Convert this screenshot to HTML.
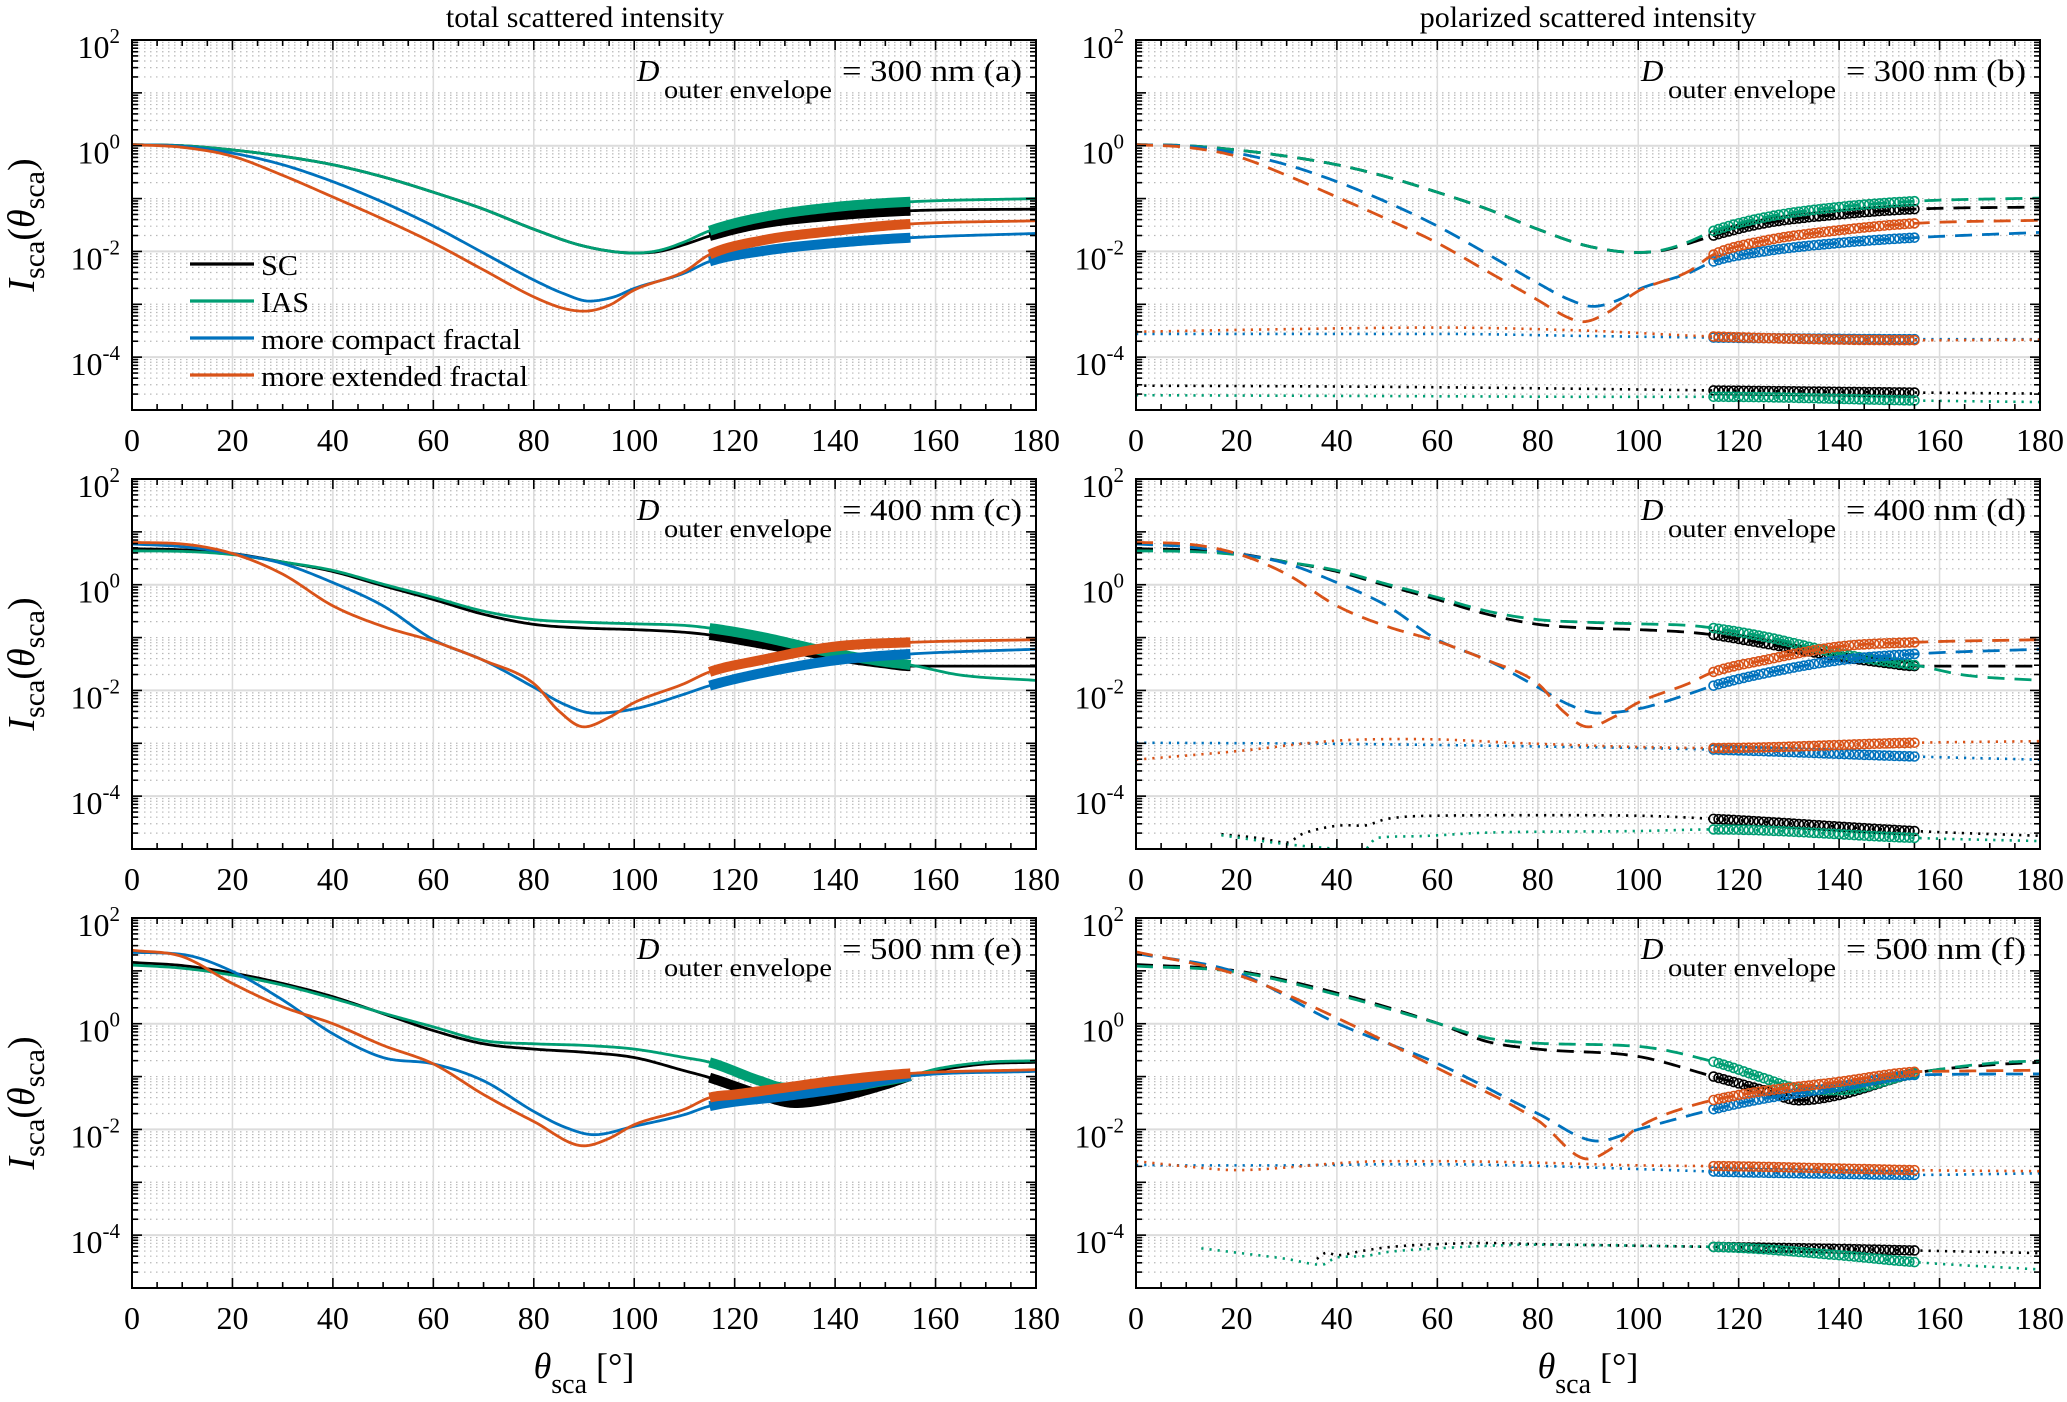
<!DOCTYPE html>
<html><head><meta charset="utf-8"><style>
html,body{margin:0;padding:0;background:#fff;}
svg text{font-family:"Liberation Serif","DejaVu Serif",serif;fill:#000;}
</style></head><body>
<svg id="fig" width="2067" height="1397" viewBox="0 0 2067 1397" xmlns="http://www.w3.org/2000/svg">
<text x="585" y="27" font-size="30" text-anchor="middle">total scattered intensity</text>
<text x="1588" y="27" font-size="30" text-anchor="middle">polarized scattered intensity</text>
</svg>
<script>
// ---------- data (log10 of I_sca) ----------
// Panel (a)  D = 300 nm, total
const aSC_ang  = [0,10,20,30,40,50,60,70,80,90,100,105,110,115,125,140,155,180];
const aSC_val  = [0.02,0,-0.08,-0.2,-0.36,-0.59,-0.88,-1.2,-1.58,-1.9,-2.03,-2.0,-1.87,-1.71,-1.48,-1.32,-1.23,-1.2];
const aIAS_ang = [0,10,20,30,40,50,60,70,80,90,100,105,110,115,125,140,155,180];
const aIAS_val = [0.02,0,-0.08,-0.2,-0.36,-0.59,-0.88,-1.2,-1.58,-1.9,-2.03,-1.98,-1.82,-1.61,-1.36,-1.16,-1.06,-1.0];
const aBL_ang  = [0,10,20,30,40,50,60,70,80,86,91,96,100,110,115,125,140,155,180];
const aBL_val  = [0.02,-0.01,-0.14,-0.36,-0.68,-1.07,-1.52,-2.03,-2.54,-2.8,-2.94,-2.86,-2.7,-2.41,-2.19,-2.0,-1.84,-1.74,-1.66];
const aOR_ang  = [0,10,20,30,40,50,60,70,80,86,90,95,100,110,115,125,140,155,180];
const aOR_val  = [0.02,-0.03,-0.2,-0.56,-0.97,-1.39,-1.84,-2.35,-2.86,-3.08,-3.13,-3.02,-2.73,-2.38,-2.06,-1.8,-1.61,-1.48,-1.42];
// Panel (b) dashed (polarized)
const bSC_ang  = [0,10,20,30,40,50,60,70,80,90,100,105,110,115,125,140,155,180];
const bSC_val  = [0.02,0,-0.08,-0.2,-0.36,-0.59,-0.88,-1.2,-1.58,-1.9,-2.02,-1.98,-1.85,-1.7,-1.47,-1.3,-1.2,-1.16];
const bIAS_val = [0.02,0,-0.08,-0.2,-0.36,-0.59,-0.88,-1.2,-1.58,-1.9,-2.02,-1.97,-1.82,-1.61,-1.36,-1.16,-1.05,-0.99];
const bBL_ang  = [0,10,20,30,40,50,60,70,80,86,91,96,100,110,115,125,140,155,180];
const bBL_val  = [0.02,-0.01,-0.14,-0.36,-0.68,-1.07,-1.52,-2.05,-2.6,-2.9,-3.04,-2.92,-2.72,-2.41,-2.19,-2.0,-1.84,-1.74,-1.64];
const bOR_ang  = [0,10,20,30,40,50,60,70,80,86,89,94,100,110,115,125,140,155,180];
const bOR_val  = [0.02,-0.03,-0.2,-0.56,-0.97,-1.39,-1.84,-2.38,-2.92,-3.25,-3.33,-3.15,-2.75,-2.38,-2.06,-1.8,-1.6,-1.47,-1.41];
// Panel (b) dotted
const bDot_ang   = [0,30,60,90,115,155,180];
const bORdot_val = [-3.52,-3.47,-3.44,-3.5,-3.61,-3.68,-3.67];
const bBLdot_val = [-3.56,-3.56,-3.56,-3.6,-3.63,-3.66,-3.66];
const bSCdot_val = [-4.54,-4.55,-4.57,-4.6,-4.63,-4.67,-4.69];
const bIASdot_val= [-4.72,-4.73,-4.74,-4.75,-4.75,-4.82,-4.85];
// Panel (c) D = 400 nm
const cSC_ang  = [0,10,20,30,40,50,60,70,80,90,100,110,115,125,140,150,155,180];
const cSC_val  = [0.68,0.66,0.59,0.43,0.25,-0.02,-0.28,-0.56,-0.75,-0.82,-0.85,-0.9,-0.95,-1.11,-1.36,-1.49,-1.54,-1.54];
const cIAS_ang = [0,10,20,30,40,50,60,70,80,90,100,110,115,125,140,150,155,165,180];
const cIAS_val = [0.64,0.63,0.57,0.43,0.27,0.01,-0.24,-0.5,-0.66,-0.71,-0.74,-0.77,-0.82,-0.98,-1.3,-1.46,-1.52,-1.71,-1.81];
const cBL_ang  = [0,10,20,30,40,50,60,70,80,86,92,100,110,115,125,140,155,180];
const cBL_val  = [0.77,0.72,0.59,0.4,0.04,-0.4,-1.04,-1.43,-1.94,-2.26,-2.43,-2.35,-2.07,-1.91,-1.68,-1.43,-1.31,-1.22];
const cOR_ang  = [0,10,20,30,40,50,60,70,80,85,90,95,100,110,115,125,140,155,180];
const cOR_val  = [0.8,0.77,0.59,0.2,-0.4,-0.79,-1.07,-1.43,-1.87,-2.39,-2.69,-2.51,-2.23,-1.87,-1.65,-1.43,-1.17,-1.09,-1.04];
// Panel (d) dotted
const dOR_ang  = [0,20,40,55,80,100,115,155,180];
const dOR_val  = [-3.31,-3.15,-2.95,-2.92,-3.01,-3.07,-3.09,-2.99,-2.96];
const dBL_ang  = [0,40,80,115,155,180];
const dBL_val  = [-2.99,-3.01,-3.06,-3.12,-3.25,-3.31];
const dSC_ang  = [17,25,30,33,38,42,45,50,60,80,100,115,155,180];
const dSC_val  = [-4.72,-4.8,-4.88,-4.72,-4.59,-4.55,-4.56,-4.43,-4.37,-4.36,-4.37,-4.43,-4.66,-4.75];
const dIAS_ang = [17,30,40,45,48,55,70,100,115,155,180];
const dIAS_val = [-4.74,-4.91,-5.0,-5.05,-4.79,-4.76,-4.69,-4.66,-4.63,-4.79,-4.85];
// Panel (e) D = 500 nm
const eSC_ang  = [0,10,20,30,40,50,60,70,80,90,100,110,115,125,132,140,150,155,160,170,180];
const eSC_val  = [1.16,1.1,0.96,0.76,0.51,0.19,-0.13,-0.38,-0.48,-0.54,-0.64,-0.89,-1.02,-1.34,-1.5,-1.4,-1.15,-0.99,-0.89,-0.76,-0.73];
const eIAS_ang = [0,10,20,30,40,50,60,70,80,90,100,110,115,125,130,140,150,155,160,170,180];
const eIAS_val = [1.11,1.05,0.92,0.73,0.48,0.2,-0.06,-0.32,-0.38,-0.41,-0.48,-0.64,-0.73,-1.08,-1.21,-1.21,-1.08,-0.99,-0.86,-0.73,-0.7];
const eBL_ang  = [0,10,20,30,40,50,60,70,80,86,92,100,110,115,130,140,155,180];
const eBL_val  = [1.35,1.31,0.99,0.45,-0.19,-0.64,-0.76,-1.08,-1.66,-1.95,-2.1,-1.94,-1.72,-1.56,-1.37,-1.24,-0.99,-0.9];
const eOR_ang  = [0,10,20,30,40,50,60,70,80,90,95,100,110,115,120,130,140,155,180];
const eOR_val  = [1.39,1.27,0.76,0.32,0,-0.41,-0.76,-1.34,-1.85,-2.31,-2.17,-1.91,-1.62,-1.4,-1.34,-1.21,-1.08,-0.94,-0.87];
// Panel (f) dashed
const fSC_ang  = [0,20,40,60,70,80,100,115,125,132,140,155,170,180];
const fSC_val  = [1.12,1.0,0.58,0.01,-0.34,-0.48,-0.62,-1.0,-1.26,-1.45,-1.35,-0.94,-0.78,-0.73];
const fIAS_ang = [0,20,40,60,70,80,100,115,125,132,140,155,170,180];
const fIAS_val = [1.09,0.98,0.55,0.01,-0.27,-0.37,-0.43,-0.72,-1.03,-1.23,-1.26,-0.94,-0.75,-0.7];
const fBL_ang  = [0,20,40,60,80,92,100,120,140,155,180];
const fBL_val  = [1.33,0.97,0.01,-0.75,-1.7,-2.22,-2.0,-1.51,-1.19,-0.97,-0.95];
const fOR_ang  = [0,20,40,60,80,90,95,100,110,120,140,155,160,180];
const fOR_val  = [1.36,0.93,0.11,-0.84,-1.83,-2.56,-2.34,-1.96,-1.57,-1.35,-1.1,-0.91,-0.9,-0.88];
// Panel (f) dotted
const fOR_dang = [0,10,20,30,40,50,60,80,100,120,140,155,180];
const fOR_dval = [-2.6,-2.7,-2.77,-2.72,-2.64,-2.6,-2.6,-2.63,-2.68,-2.7,-2.74,-2.77,-2.79];
const fBL_dval = [-2.67,-2.68,-2.68,-2.68,-2.67,-2.66,-2.66,-2.69,-2.75,-2.81,-2.84,-2.86,-2.83];
const fSC_dang = [36,38,40,45,50,60,70,80,100,120,140,155,180];
const fSC_dval = [-4.45,-4.33,-4.38,-4.3,-4.23,-4.17,-4.15,-4.17,-4.2,-4.23,-4.26,-4.29,-4.34];
const fIAS_dang= [13,20,30,37,40,45,50,60,80,100,120,140,155,180];
const fIAS_dval= [-4.25,-4.33,-4.45,-4.56,-4.42,-4.4,-4.32,-4.25,-4.18,-4.2,-4.24,-4.38,-4.51,-4.65];

const xTicks = [0,20,40,60,80,100,120,140,160,180];
const yTickExp = [2,0,-2,-4];
const legendLabels = ['SC','IAS','more compact fractal','more extended fractal'];
const panelLabels = ['= 300 nm (a)','= 300 nm (b)','= 400 nm (c)','= 400 nm (d)','= 500 nm (e)','= 500 nm (f)'];

// ---------- rendering ----------
const NS = 'http://www.w3.org/2000/svg';
const svg = document.getElementById('fig');
const COL = {SC:'#000000', IAS:'#009e73', BL:'#0072bd', OR:'#d95319'};
const PW = 904, PH = 370, YMAX = 2, YMIN = -5;
const colX = [132, 1136], rowY = [40, 479, 918];

function mk(tag, attrs, parent){
  const e = document.createElementNS(NS, tag);
  for (const k in attrs) e.setAttribute(k, attrs[k]);
  (parent||svg).appendChild(e);
  return e;
}
function mono(xs, ys){
  const n = xs.length, d = [], m = new Array(n);
  for (let i=0;i<n-1;i++) d.push((ys[i+1]-ys[i])/(xs[i+1]-xs[i]));
  m[0]=d[0]; m[n-1]=d[n-2];
  for (let i=1;i<n-1;i++) m[i] = (d[i-1]*d[i]<=0)?0:(d[i-1]+d[i])/2;
  for (let i=0;i<n-1;i++){
    if (d[i]===0){m[i]=0;m[i+1]=0;continue;}
    const a=m[i]/d[i], b=m[i+1]/d[i], s=a*a+b*b;
    if (s>9){const t=3/Math.sqrt(s); m[i]=t*a*d[i]; m[i+1]=t*b*d[i];}
  }
  return function(x){
    let i=0; while(i<n-2 && x>xs[i+1]) i++;
    const h=xs[i+1]-xs[i], t=(x-xs[i])/h, t2=t*t, t3=t2*t;
    return (2*t3-3*t2+1)*ys[i]+(t3-2*t2+t)*h*m[i]+(-2*t3+3*t2)*ys[i+1]+(t3-t2)*h*m[i+1];
  };
}

function makePanel(col,row,idx){
  const x0=colX[col], y0=rowY[row];
  const g = mk('g',{});
  
  
  const sx = a => x0 + a/180*PW;
  const sy = L => y0 + (YMAX-L)/(YMAX-YMIN)*PH;
  const cid='clip'+idx;
  const cp = mk('clipPath',{id:cid},g); mk('rect',{x:x0,y:y0,width:PW,height:PH},cp);
  // grid
  const grid = mk('g',{},g);
  
  
  for (let e=YMIN;e<YMAX;e++) for (let k=2;k<=9;k++){
    const y=sy(e+Math.log10(k));
    mk('line',{x1:x0,x2:x0+PW,y1:y,y2:y,stroke:'#b8b8b8','stroke-width':1.2,'stroke-dasharray':'1.5 4.5'},grid);
  }
  for (let e=YMIN;e<=YMAX;e++){ if (e%2!==0) { const y=sy(e); mk('line',{x1:x0,x2:x0+PW,y1:y,y2:y,stroke:'#b8b8b8','stroke-width':1.2,'stroke-dasharray':'1.5 4.5'},grid);} }
  yTickExp.forEach(e=>{const y=sy(e); mk('line',{x1:x0,x2:x0+PW,y1:y,y2:y,stroke:'#dcdcdc','stroke-width':2},grid);});
  xTicks.forEach(a=>{const x=sx(a); mk('line',{x1:x,x2:x,y1:y0,y2:y0+PH,stroke:'#dcdcdc','stroke-width':1.5},grid);});
  // series
  const plot = mk('g',{'clip-path':'url(#'+cid+')'},g);
  function curve(ang, val, color, kind, name){
    const f = mono(ang, val);
    const a0=ang[0], a1=ang[ang.length-1];
    let d='';
    for (let a=a0;a<=a1+1e-9;a+=0.5) d += (d?'L':'M')+sx(a).toFixed(2)+' '+sy(f(a)).toFixed(2);
    const attrs={d:d,fill:'none',stroke:color,'stroke-width':kind==='dot'?2.6:2.8};
    if (kind==='dash') attrs['stroke-dasharray']='17 10';
    if (kind==='dot') attrs['stroke-dasharray']='2.2 6';
    const p = mk('path',attrs,plot);
    
    
    const lo=Math.max(115,a0), hi=Math.min(155,a1);
    if (kind==='solid'){
      let d2='';
      for (let a=lo;a<=hi+1e-9;a+=0.5) d2 += (d2?'L':'M')+sx(a).toFixed(2)+' '+sy(f(a)).toFixed(2);
      const t = mk('path',{d:d2,fill:'none',stroke:color,'stroke-width':10,'stroke-linejoin':'round'},plot);
      
      
    } else {
      const mg = mk('g',{},plot);
      
      
      for (let a=Math.ceil(lo);a<=hi;a+=1) mk('circle',{cx:sx(a),cy:sy(f(a)),r:4.5,fill:'none',stroke:color,'stroke-width':1.6},mg);
    }
  }
  return {g,sx,sy,x0,y0,curve};
}

function axes(P, idx){
  const {g,sx,sy,x0,y0}=P;
  const ax = mk('g',{},g);
  
  
  mk('rect',{x:x0,y:y0,width:PW,height:PH,fill:'none',stroke:'#000','stroke-width':2},ax);
  for (let a=0;a<=180;a+=5){
    const L = (a%20===0)?10:6, x=sx(a);
    mk('line',{x1:x,x2:x,y1:y0+PH,y2:y0+PH-L,stroke:'#000','stroke-width':1.6},ax);
    mk('line',{x1:x,x2:x,y1:y0,y2:y0+L,stroke:'#000','stroke-width':1.6},ax);
  }
  for (let e=YMIN;e<YMAX;e++) for (let k=1;k<=9;k++){
    const y=sy(e+Math.log10(k)), L=(k===1)?10:6;
    mk('line',{x1:x0,x2:x0+L,y1:y,y2:y,stroke:'#000','stroke-width':1.6},ax);
    mk('line',{x1:x0+PW,x2:x0+PW-L,y1:y,y2:y,stroke:'#000','stroke-width':1.6},ax);
  }
  xTicks.forEach(a=>{
    const t = mk('text',{x:sx(a),y:y0+PH+41,'font-size':32,'text-anchor':'middle'},ax);
    t.textContent=String(a);
    
    
  });
  yTickExp.forEach(e=>{
    const t = mk('text',{x:x0-12,y:sy(e)+18,'font-size':32,'text-anchor':'end'},ax);
    
    
    const a=mk('tspan',{},t); a.textContent='10';
    const b=mk('tspan',{dy:-15,'font-size':21},t); b.textContent=String(e);
  });
  // annotation
  const an = mk('g',{},g);
  
  
  const D = mk('text',{x:x0+505,y:y0+41,'font-size':31,'font-style':'italic'},an); D.textContent='D';
  const s = mk('text',{x:x0+532,y:y0+58,'font-size':25,textLength:168,lengthAdjust:'spacingAndGlyphs'},an); s.textContent='outer envelope';
  const v = mk('text',{x:x0+710,y:y0+41,'font-size':31,textLength:180,lengthAdjust:'spacingAndGlyphs'},an); v.textContent=panelLabels[idx];
}

function ylabel(row){
  const cy = rowY[row]+PH/2;
  const t = mk('text',{transform:'translate(34,'+cy+') rotate(-90)','font-size':38,'text-anchor':'middle'});
  
  
  const a=mk('tspan',{'font-style':'italic'},t); a.textContent='I';
  const b=mk('tspan',{'font-size':30,dy:10},t); b.textContent='sca';
  const c=mk('tspan',{dy:-10},t); c.textContent='(';
  const d=mk('tspan',{'font-style':'italic'},t); d.textContent='θ';
  const e=mk('tspan',{'font-size':30,dy:10},t); e.textContent='sca';
  const f=mk('tspan',{dy:-10},t); f.textContent=')';
}
function xlabel(col){
  const cx = colX[col]+PW/2;
  const t = mk('text',{x:cx,y:1378,'font-size':36,'text-anchor':'middle'});
  
  
  const a=mk('tspan',{'font-style':'italic'},t); a.textContent='θ';
  const b=mk('tspan',{'font-size':28,dy:15},t); b.textContent='sca';
  const c=mk('tspan',{dy:-15},t); c.textContent=' [°]';
}

// Left panels (total)
const leftSets = [
  [[aSC_ang,aSC_val],[aIAS_ang,aIAS_val],[aBL_ang,aBL_val],[aOR_ang,aOR_val]],
  [[cSC_ang,cSC_val],[cIAS_ang,cIAS_val],[cBL_ang,cBL_val],[cOR_ang,cOR_val]],
  [[eSC_ang,eSC_val],[eIAS_ang,eIAS_val],[eBL_ang,eBL_val],[eOR_ang,eOR_val]]
];
const rightDash = [
  [[bSC_ang,bSC_val],[bSC_ang,bIAS_val],[bBL_ang,bBL_val],[bOR_ang,bOR_val]],
  [[cSC_ang,cSC_val],[cIAS_ang,cIAS_val],[cBL_ang,cBL_val],[cOR_ang,cOR_val]],
  [[fSC_ang,fSC_val],[fIAS_ang,fIAS_val],[fBL_ang,fBL_val],[fOR_ang,fOR_val]]
];
const rightDot = [
  [[bDot_ang,bSCdot_val],[bDot_ang,bIASdot_val],[bDot_ang,bBLdot_val],[bDot_ang,bORdot_val]],
  [[dSC_ang,dSC_val],[dIAS_ang,dIAS_val],[dBL_ang,dBL_val],[dOR_ang,dOR_val]],
  [[fSC_dang,fSC_dval],[fIAS_dang,fIAS_dval],[fOR_dang,fBL_dval],[fOR_dang,fOR_dval]]
];
const keys=['SC','IAS','BL','OR'];
const names=['sc','ias','compact-fractal','extended-fractal'];
for (let r=0;r<3;r++){
  const L = makePanel(0,r,2*r);
  leftSets[r].forEach((s,i)=>L.curve(s[0],s[1],COL[keys[i]],'solid',names[i]+'-line'));
  axes(L,2*r);
  const R = makePanel(1,r,2*r+1);
  rightDot[r].forEach((s,i)=>R.curve(s[0],s[1],COL[keys[i]],'dot',names[i]+'-dotted'));
  rightDash[r].forEach((s,i)=>R.curve(s[0],s[1],COL[keys[i]],'dash',names[i]+'-dashed'));
  axes(R,2*r+1);
  ylabel(r);
}
xlabel(0); xlabel(1);

// legend
const lg = mk('g',{});


const legW=[37,48,260,267];
legendLabels.forEach((lab,i)=>{
  const y = 264 + i*37;
  const e = mk('g',{},lg);
  
  
  mk('rect',{x:186,y:y-15,width:355,height:30,fill:'none'},e);
  mk('line',{x1:190,x2:254,y1:y,y2:y,stroke:COL[keys[i]],'stroke-width':3.2},e);
  const t = mk('text',{x:261,y:y+11,'font-size':29,textLength:legW[i],lengthAdjust:'spacingAndGlyphs'},e);
  t.textContent=lab;
});
</script>
</body></html>
